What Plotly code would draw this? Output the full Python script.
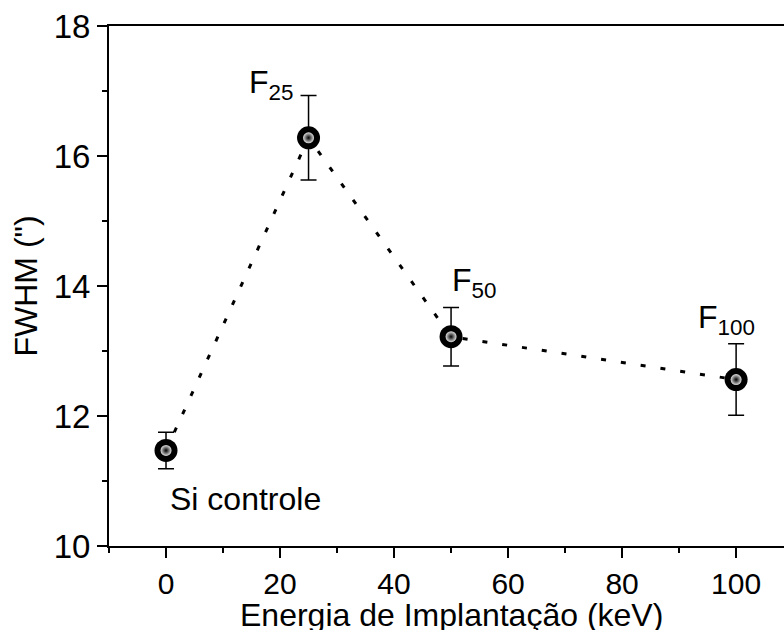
import plotly.graph_objects as go

# Data
energy = [0, 25, 50, 100]
fwhm = [11.47, 16.28, 13.22, 12.56]
fwhm_err = [0.28, 0.65, 0.45, 0.55]
labels = ["Si controle", "F<sub>25</sub>", "F<sub>50</sub>", "F<sub>100</sub>"]

x_ticks = [0, 20, 40, 60, 80, 100]
y_ticks = [10, 12, 14, 16, 18]
x_title = "Energia de Implantação (keV)"
y_title = 'FWHM (")'

FONT = "Liberation Sans, Arial, sans-serif"

fig = go.Figure()

# dotted connecting line
fig.add_trace(go.Scatter(
    x=energy, y=fwhm, mode="lines",
    line=dict(color="black", width=3, dash="5px,15px"),
    hoverinfo="skip", showlegend=False,
))

# error bars + dark sphere base
fig.add_trace(go.Scatter(
    x=energy, y=fwhm, mode="markers",
    error_y=dict(type="data", array=fwhm_err, visible=True,
                 color="black", thickness=1.5, width=8),
    marker=dict(size=23, color="black", line=dict(width=0)),
    showlegend=False,
))

# highlight for sphere look
fig.add_trace(go.Scatter(
    x=energy, y=fwhm, mode="markers",
    marker=dict(size=11, color="#e0e0e0",
                gradient=dict(type="radial", color="black"),
                line=dict(width=0)),
    hoverinfo="skip", showlegend=False,
))

shifts = [(79, -49), (-38, 53), (23, 54), (-10, 60)]
for xv, yv, lab, (dx, dy) in zip(energy, fwhm, labels, shifts):
    fig.add_annotation(
        x=xv, y=yv, text=lab, showarrow=False,
        xshift=dx, yshift=dy, xanchor="center", yanchor="middle",
        font=dict(family=FONT, size=32, color="black"),
    )

# x-axis title placed as annotation below the tick labels
fig.add_annotation(
    xref="paper", yref="paper", x=0.507, y=0, yshift=-69,
    text=x_title, showarrow=False, xanchor="center", yanchor="middle",
    font=dict(family=FONT, size=32, color="black"),
)

fig.update_layout(
    width=784, height=630,
    margin=dict(l=109, r=0, t=26, b=84),
    paper_bgcolor="white", plot_bgcolor="white",
    font=dict(family=FONT, size=32, color="black"),
    showlegend=False,
)

fig.update_xaxes(
    range=[-10, 108.4],
    tickmode="array", tickvals=x_ticks, ticktext=[str(v) for v in x_ticks],
    ticks="outside", ticklen=10, tickwidth=2, tickcolor="black",
    minor=dict(dtick=10, tick0=0, ticks="outside", ticklen=5, tickwidth=2, tickcolor="black"),
    showline=True, linewidth=2, linecolor="black", mirror=True,
    showgrid=False, zeroline=False,
    tickfont=dict(family=FONT, size=30),
)

fig.update_yaxes(
    range=[10, 18],
    tickmode="array", tickvals=y_ticks, ticktext=[str(v) for v in y_ticks],
    ticks="outside", ticklen=10, tickwidth=2, tickcolor="black",
    minor=dict(dtick=1, tick0=10, ticks="outside", ticklen=5, tickwidth=2, tickcolor="black"),
    showline=True, linewidth=2, linecolor="black", mirror=False,
    showgrid=False, zeroline=False,
    tickfont=dict(family=FONT, size=33),
    title=dict(text=y_title, font=dict(family=FONT, size=32), standoff=6),
)

fig.write_html("out.html")
